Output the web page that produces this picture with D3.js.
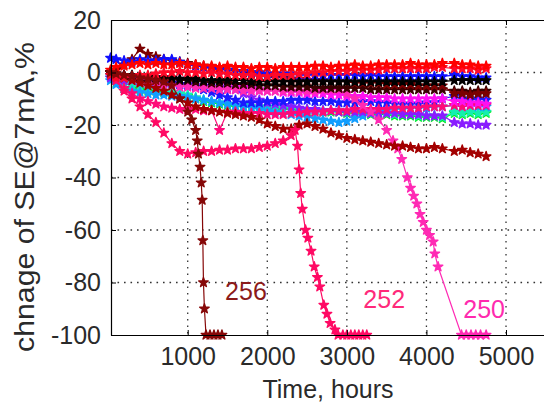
<!DOCTYPE html>
<html>
<head>
<meta charset="utf-8">
<script src="https://cdn.jsdelivr.net/npm/d3@7"></script>
<style>
  html, body { margin: 0; padding: 0; background: #fff; }
  svg { display: block; font-family: "Liberation Sans", Arial, sans-serif; }
</style>
</head>
<body>
<script>
// ---------- DATA ----------
const xTicks = [1000, 2000, 3000, 4000, 5000];
const yTicks = [-100, -80, -60, -40, -20, 0, 20];
const xLabel = "Time, hours";
const yLabel = "chnage of SE@7mA,%";

// shared sample times for the clustered series (hours)
const T = [30,100,200,300,400,500,600,700,800,900,1000,1100,1200,1300,1400,1500,1600,1700,1800,1900,2000,2100,2200,2300,2400,2500,2600,2700,2800,2900,3000,3100,3200,3300,3400,3500,3600,3700,3800,3900,4000,4100,4200,4350,4450,4550,4650,4750];

const green = [-1,-4,-6,-6,-6.5,-7,-7,-7.5,-8,-8.5,-9,-10,-11,-11.5,-12,-12.5,-13,-13,-13.5,-13.5,-13.5,-14,-14,-14,-14.5,-14.5,-14.5,-15,-15,-15,-15.5,-15.5,-15.5,-16,-16,-16,-16.5,-16.5,-16.5,-17,-17,-17,-17.5,-15.5,-16,-15.5,-16,-15.5];
const aquamarine = [-2,-3,-4,-5,-5.5,-6,-6.5,-7,-7.5,-8,-8.5,-9.5,-10.5,-11,-11.5,-12,-12.5,-12.5,-13,-13,-13,-13.5,-13.5,-13.5,-14,-14,-14,-14.5,-14.5,-14.5,-15,-15,-15,-15.5,-15.5,-15.5,-16,-16,-16,-16.5,-16.5,-16.5,-17,-15,-15.5,-15,-15.5,-15];
const skyblue = [-3,-4.5,-6,-7,-7.5,-8,-8.5,-8.5,-9,-9,-9.5,-10,-10.5,-11,-11.5,-12,-12.5,-13,-13.5,-14,-14.5,-15,-15.5,-16,-16.5,-17,-17.5,-18,-18.5,-19,-18.5,-17.5,-16.5,-15.5,-15,-14.5,-14,-14,-13.5,-13.5,-13.5,-13,-13,-12.5,-13,-12.5,-13,-13];
const violet = [-2,-2.5,-3,-3,-3.5,-3.5,-4,-4,-4,-4.5,-4.5,-5,-5,-5.5,-5.5,-6,-6.5,-8,-9.5,-10.5,-11.5,-12,-12.5,-13,-13.5,-14,-14,-14.5,-14.5,-15,-15,-15,-15,-15.5,-15.5,-15.5,-15.5,-16,-16,-16,-16.5,-16.5,-16.5,-19,-19.5,-19.5,-20,-20];
const blue2 = [-1,-1.5,-2,-2.5,-3,-3,-3.5,-4,-4,-4.5,-5,-5.5,-6.5,-7.5,-8.5,-9.5,-10.5,-11.5,-11.5,-11.5,-11,-11,-11,-10.5,-10.5,-10.5,-11,-11,-11,-11.5,-11.5,-11.5,-11,-11,-11.5,-11.5,-12,-12,-12,-12,-11.5,-11.5,-10,-9,-10,-10.5,-10,-10.5];
const pink2 = [0,-3,-6,-8,-10,-11,-12,-13,-13.5,-14,-14,-14,-14.5,-14.5,-22,-15,-15,-15.5,-15.5,-15.5,-16,-16,-16,-15.5,-15.5,-15,-15,-15,-14.5,-14.5,-14.5,-14,-14,-14,-14,-14,-13.5,-13.5,-13.5,-13.5,-13,-13,-13,-12.5,-13,-12.5,-12.5,-12.5];
const magenta = [0,-1,-1,-1.5,-1.5,-2,-2,-2,-2.5,-2.5,-3,-3,-3.5,-3.5,-4,-4.5,-5,-5.5,-6,-6.5,-7,-7,-7.5,-7.5,-7.5,-8,-8,-8,-8.5,-8.5,-9,-9,-9,-9.5,-9.5,-9.5,-10,-10,-10,-10,-10,-10,-10,-11,-11,-11.5,-11.5,-12];
const darkMaroon = [0,-0.5,-1,-1.5,-1.5,-2,-2,-2.5,-2.5,-3,-3,-3.5,-3.5,-4,-4,-4,-4.5,-4.5,-4.5,-5,-5,-5,-5.5,-5.5,-5.5,-5.5,-6,-6,-6,-6,-6,-6,-6,-6.5,-6.5,-6.5,-6.5,-6.5,-6.5,-6.5,-6.5,-6.5,-6.5,-7,-7,-7.5,-7,-7];
const maroonPeak = [0,1,3,5,9,7,6,5,4.5,4,3.5,3,2.5,2,1.5,1,0.5,0,-0.5,-1,-1.5,-2,-2,-2.5,-2.5,-3,-3,-3,-3.5,-3.5,-3.5,-4,-4,-4,-4,-4.5,-4.5,-4.5,-4.5,-5,-5,-5,-5,-8,-8,-8.5,-8,-8];
const blue1 = [5.5,5,4.5,4,5,4.5,4.5,5,5,4,3,2.5,2,1.5,1,1,0.5,0.5,0,0,-0.5,-0.5,-0.5,-0.5,-1,-1,-1,-1,-1,-1,-1,-1,-1.5,-1,-1.5,-1.5,-1.5,-1.5,-1.5,-1.5,-1.5,-1.5,-1.5,-1,-1.5,-1.5,-2,-2];
const black = [0,-0.5,-1,-1,-1.5,-1.5,-2,-2,-2,-2.5,-2.5,-2.5,-3,-3,-3,-3,-3,-3,-3.5,-3.5,-3.5,-3.5,-3.5,-3.5,-3.5,-3.5,-3.5,-3.5,-3.5,-3.5,-3.5,-3.5,-3.5,-3.5,-3.5,-3.5,-3.5,-3.5,-3.5,-3.5,-3.5,-3.5,-3.5,-3,-3,-3,-3,-3];
const red2 = [-1,-2,-2,-1.5,-1,-1,-0.5,0,0,0.5,0,0,-0.5,0,-0.5,-0.5,-1,-1,-1,-1.5,-1.5,-1,-1,-1,-0.5,-0.5,0,0,0.5,0.5,0.5,1,1,1,1,1.5,1.5,1.5,1.5,1.5,1.5,2,2,1.5,1.5,1.5,1,1.5];
const red1 = [1,2,2.5,3,3.5,3,3.5,3,3,3.5,3,3,2.5,2.5,2,2.5,2,2,1.5,2,2,1.5,2,2,2,2,2.5,2.5,2,2.5,2.5,3,2.5,2.5,3,3,3,3,3.5,3,3,3,3.5,3.5,3,3,2.5,2.5];
const maroon2 = [0,-1,-2,-3,-4,-5,-6,-7,-8.5,-10,-11.5,-13,-14,-14.5,-15,-15.5,-16,-16.5,-17,-18,-19.5,-20.5,-21.5,-21.5,-20,-19.5,-20.5,-21.5,-23,-24,-25,-25.5,-26,-26.5,-27,-27.5,-28,-28,-28.5,-29,-29,-28.5,-29,-30,-29.5,-30.5,-31,-32];

// labelled failing samples
const T252 = [30,100,200,300,400,500,600,700,800,900,1000,1100,1200,1300,1400,1500,1600,1700,1800,1900,2000,2100,2200,2300,2350,2380,2400,2420,2440,2480,2510,2550,2590,2630,2660,2710,2750,2790,2850,2890,2950,3000,3050,3100,3150,3200,3250];
const V252 = [0,-3,-7,-10,-13,-16,-19,-23,-27,-30,-31,-30.5,-30,-30,-29.5,-29.5,-29,-29,-29,-28.5,-28,-27,-26,-24,-22,-28,-37,-46,-52,-60,-63,-68,-74,-78,-81.6,-88.6,-92,-95.5,-98,-100,-100,-100,-100,-100,-100,-100,-100];
const T250 = [30,100,200,300,400,500,600,700,800,900,1000,1100,1200,1300,1400,1500,1600,1700,1800,1900,2000,2100,2200,2300,2400,2500,2600,2700,2800,2900,3000,3100,3200,3300,3400,3500,3580,3640,3690,3760,3800,3840,3880,3920,3960,4000,4040,4085,4105,4146,4440,4500,4560,4620,4680,4750];
const V250 = [0,-1,-2,-3,-3.5,-4,-4.5,-5,-5,-5.5,-5.5,-6,-6,-6,-6.5,-6.5,-6.5,-7,-7,-7,-7,-7,-7,-7,-7,-7,-7,-6.5,-6.5,-6.5,-8,-10,-12.5,-15,-18,-22,-26,-29,-33,-40,-44,-47,-50,-54,-57,-60,-62,-64.5,-69,-74,-100,-100,-100,-100,-100,-100];
const T256 = [30,100,200,300,400,500,600,700,800,900,1000,1050,1100,1120,1135,1155,1170,1182,1190,1198,1210,1230,1280,1330,1380,1430];
const V256 = [0,-0.5,-1,-1.5,-2,-2.5,-3,-3.5,-5,-10,-15,-18,-22,-26,-31,-36,-42,-48.6,-64,-80,-90,-100,-100,-100,-100,-100];

const seriesLabels = [
  {text: "256", t: 1470, v: -86.7},
  {text: "252", t: 3207, v: -89.7},
  {text: "250", t: 4463, v: -93.5}
];

// ---------- SERIES TABLE ----------
const series = [
  {t: T, v: green, color: "#00ee22"},
  {t: T, v: aquamarine, color: "#14eeb0"},
  {t: T, v: skyblue, color: "#119eff"},
  {t: T, v: violet, color: "#8a1cff"},
  {t: T, v: blue2, color: "#1a1aff"},
  {t: T, v: pink2, color: "#ff0a78"},
  {t: T, v: magenta, color: "#ff10f0"},
  {t: T250, v: V250, color: "#ff2ab4"},
  {t: T, v: maroon2, color: "#a30000"},
  {t: T252, v: V252, color: "#ff0a64"},
  {t: T, v: darkMaroon, color: "#3a0000"},
  {t: T, v: maroonPeak, color: "#7c0000"},
  {t: T, v: blue1, color: "#1010ff"},
  {t: T, v: black, color: "#000000"},
  {t: T, v: red2, color: "#ff0a2a"},
  {t: T, v: red1, color: "#ff0000"},
  {t: T256, v: V256, color: "#860808"}
];
const labelColors = {"256": "#8b1a1a", "252": "#ff2a7a", "250": "#ff2aae"};

// ---------- DRAW ----------
const W = 544, H = 403;
const svg = d3.select("body").append("svg").attr("width", W).attr("height", H);
const x = d3.scaleLinear().domain([36, 5500]).range([111, 545.8]);
const y = d3.scaleLinear().domain([-100, 20]).range([335, 20]);

// grid
const grid = svg.append("g").attr("stroke", "#333").attr("stroke-width", 1.3)
  .attr("stroke-dasharray", "1.6,4.9");
xTicks.forEach(t => grid.append("line")
  .attr("x1", x(t)).attr("x2", x(t)).attr("y1", y(20)).attr("y2", y(-100)));
yTicks.filter(v => v > -100 && v < 20).forEach(v => grid.append("line")
  .attr("x1", x.range()[0]).attr("x2", x.range()[1]).attr("y1", y(v)).attr("y2", y(v)));

// series
const line = d3.line().x(d => x(d[0])).y(d => y(d[1]));
const star = d3.symbol().type(d3.symbolStar).size(28);
series.forEach(s => {
  const pts = s.t.map((t, i) => [t, s.v[i]]);
  const g = svg.append("g");
  g.append("path").datum(pts).attr("d", line)
    .attr("fill", "none").attr("stroke", s.color).attr("stroke-width", 1.2);
  g.selectAll("path.m").data(pts).enter().append("path").attr("class", "m")
    .attr("d", star)
    .attr("transform", d => `translate(${x(d[0])},${y(d[1])})`)
    .attr("fill", s.color).attr("stroke", s.color).attr("stroke-width", 1.4)
    .attr("stroke-linejoin", "round");
});

// axes
const fontSize = 25;
const fmt = d3.format("d");
const xAxis = d3.axisBottom(x).tickValues(xTicks).tickFormat(fmt).tickSizeInner(-5).tickSizeOuter(0).tickPadding(12);
const yAxis = d3.axisLeft(y).tickValues(yTicks).tickFormat(fmt).tickSizeInner(-5).tickSizeOuter(0).tickPadding(10);
const gx = svg.append("g").attr("transform", `translate(0,${y(-100)})`).call(xAxis);
const gy = svg.append("g").attr("transform", `translate(${x.range()[0]},0)`).call(yAxis);
const gt = svg.append("g").attr("transform", `translate(0,${y(20)})`)
  .call(d3.axisTop(x).tickValues(xTicks).tickSizeInner(-5).tickSizeOuter(0).tickFormat(""));
[gx, gy, gt].forEach(g => {
  g.select(".domain").attr("stroke", "#000").attr("stroke-width", 1.2);
  g.selectAll(".tick line").attr("stroke", "#000");
  g.selectAll("text").attr("font-size", fontSize).attr("fill", "#2a2a2a")
    .attr("font-family", "Liberation Sans, Arial, sans-serif");
});
gy.selectAll("text").text(d => d < 0 ? "-" + Math.abs(d) : d);
svg.append("line").attr("x1", x.range()[1]).attr("x2", x.range()[1])
  .attr("y1", y(20)).attr("y2", y(-100)).attr("stroke", "#000").attr("stroke-width", 1.2);

// axis titles
svg.append("text").attr("x", 328).attr("y", 398)
  .attr("text-anchor", "middle").attr("font-size", fontSize).attr("fill", "#2a2a2a")
  .text(xLabel);
svg.append("text").attr("transform", "translate(34,197) rotate(-90)")
  .attr("text-anchor", "middle").attr("font-size", 28).attr("fill", "#2a2a2a")
  .attr("textLength", 310).attr("lengthAdjust", "spacingAndGlyphs")
  .text(yLabel);

// series labels
seriesLabels.forEach(l => svg.append("text")
  .attr("x", x(l.t)).attr("y", y(l.v)).attr("font-size", fontSize)
  .attr("fill", labelColors[l.text]).text(l.text));
</script>
</body>
</html>
